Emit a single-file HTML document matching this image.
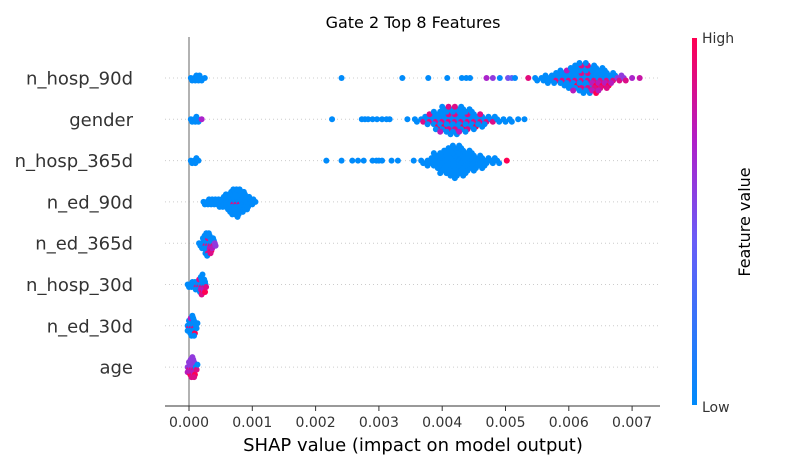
<!DOCTYPE html>
<html><head><meta charset="utf-8"><style>
body{margin:0;background:#fff;}
svg{display:block;font-family:"DejaVu Sans","Liberation Sans",sans-serif;}
</style></head><body>
<svg id="chart" width="800" height="470">
<defs><linearGradient id="cb" x1="0" y1="1" x2="0" y2="0">
<stop offset="0" stop-color="#008bfb"/><stop offset="0.45" stop-color="#6a5cf7"/><stop offset="0.72" stop-color="#b01ec8"/><stop offset="1" stop-color="#ff0052"/></linearGradient></defs>
<text x="413" y="28" text-anchor="middle" font-size="16" fill="#000">Gate 2 Top 8 Features</text>
<g id="grid"></g><g id="ylabels"></g>
<line x1="189" y1="37" x2="189" y2="406" stroke="#999" stroke-width="1.5"/>
<g id="points"></g>
<line x1="165" y1="406" x2="660" y2="406" stroke="#333" stroke-width="1"/>
<g id="xticks"></g>
<text x="413" y="451" text-anchor="middle" font-size="18" fill="#000">SHAP value (impact on model output)</text>
<rect x="692" y="38" width="5" height="367" fill="url(#cb)"/>
<text x="702" y="43" font-size="14" fill="#333">High</text>
<text x="702" y="412" font-size="14" fill="#333">Low</text>
<text transform="translate(750,222) rotate(-90)" text-anchor="middle" font-size="16" fill="#000">Feature value</text>
</svg>
<script>
const features=["n_hosp_90d","gender","n_hosp_365d","n_ed_90d","n_ed_365d","n_hosp_30d","n_ed_30d","age"];
const xTicks=[0,0.001,0.002,0.003,0.004,0.005,0.006,0.007];
const xTickLabels=["0.000","0.001","0.002","0.003","0.004","0.005","0.006","0.007"];
// bin centers in units of 1e-3, counts, and fraction of high-valued (red) points
const hosp90Centers=[0.05,0.1,0.15,0.2,0.25,2.41,3.37,3.78,4.08,4.31,4.38,4.44,4.7,4.8,4.91,5.04,5.1,5.15,5.36,5.5,5.6,5.7,5.8,5.9,6.0,6.1,6.2,6.3,6.4,6.5,6.6,6.7,6.8,6.9,7.0,7.12];
const hosp90Counts=[2,3,3,2,1,1,1,1,1,1,1,1,1,1,1,1,1,1,1,2,3,4,5,7,9,11,13,13,12,10,8,5,3,2,1,1];
const hosp90Red=[0,0,0,0,0,0,0,0,0,0,0,0,0.7,0.6,0,0.5,0.4,0,0.9,0,0,0,0.1,0.15,0.2,0.25,0.3,0.35,0.4,0.45,0.45,0.5,0.6,0.6,0.7,0.8];
const genderCenters=[0.05,0.1,0.15,0.2,2.26,2.73,2.78,2.83,2.9,2.97,3.05,3.12,3.17,3.45,3.6,3.7,3.8,3.9,4.0,4.1,4.2,4.3,4.4,4.5,4.6,4.7,4.8,4.9,5.0,5.1,5.2,5.3];
const genderCounts=[2,3,2,1,1,1,1,1,1,1,1,1,1,1,2,3,5,8,11,12,12,11,10,8,6,4,3,2,2,2,1,1];
const genderRed=[0,0,0,0.7,0,0,0,0,0,0,0,0,0,0,0.2,0.3,0.3,0.3,0.3,0.35,0.35,0.3,0.3,0.3,0.25,0.2,0.2,0.1,0,0,0,0];
const hosp365Centers=[0.05,0.1,0.15,2.17,2.41,2.58,2.67,2.76,2.9,2.96,3.0,3.05,3.2,3.3,3.55,3.7,3.8,3.9,4.0,4.1,4.2,4.3,4.4,4.5,4.6,4.7,4.8,4.9,5.02];
const hosp365Counts=[2,3,1,1,1,1,1,1,1,1,1,1,1,1,1,2,4,7,10,12,14,13,10,8,6,4,3,2,1];
const hosp365Red=[0,0,0,0,0,0,0,0,0,0,0,0,0,0,0,0,0,0,0.02,0,0,0,0,0,0,0,0,0,1];
const ed90Centers=[0.25,0.3,0.35,0.4,0.45,0.5,0.55,0.6,0.65,0.7,0.75,0.8,0.85,0.9,0.95,1.0,1.05];
const ed90Counts=[2,3,3,3,3,4,5,7,9,11,12,11,9,7,5,3,1];
const ed90Red=[0,0,0,0,0,0,0,0,0.05,0.1,0.1,0.1,0.05,0,0,0,0];
const ed365Centers=[0.18,0.22,0.26,0.3,0.34,0.38,0.42];
const ed365Counts=[2,5,9,10,8,5,2];
const ed365Red=[0,0,0.1,0.3,0.45,0.5,0.9];
const hosp30Centers=[0.0,0.04,0.08,0.12,0.16,0.2,0.24,0.27];
const hosp30Counts=[2,3,3,4,6,9,6,2];
const hosp30Red=[0,0,0,0.2,0.4,0.45,0.5,0.3];
const ed30Centers=[0.0,0.04,0.08,0.12];
const ed30Counts=[6,9,8,3];
const ed30Red=[0.1,0.2,0.2,0.1];
const ageCenters=[0.0,0.04,0.08,0.12];
const ageCounts=[6,9,8,3];
const ageRed=[0.6,0.6,0.6,0.5];
const allCenters=[hosp90Centers,genderCenters,hosp365Centers,ed90Centers,ed365Centers,hosp30Centers,ed30Centers,ageCenters];
const allCounts=[hosp90Counts,genderCounts,hosp365Counts,ed90Counts,ed365Counts,hosp30Counts,ed30Counts,ageCounts];
const allRed=[hosp90Red,genderRed,hosp365Red,ed90Red,ed365Red,hosp30Red,ed30Red,ageRed];

const NS="http://www.w3.org/2000/svg";
const x0=189,pxPer=63300;
function xScale(v){return x0+v*pxPer;}
function yScale(i){return 78+i*41.3;}
function mk(t,a){const e=document.createElementNS(NS,t);for(const k in a)e.setAttribute(k,a[k]);return e;}
function col(t){
  const s=[[0,[0,139,251]],[0.45,[106,92,247]],[0.72,[176,30,200]],[1,[255,0,82]]];
  for(let i=0;i<s.length-1;i++){if(t<=s[i+1][0]){const f=(t-s[i][0])/(s[i+1][0]-s[i][0]);const a=s[i][1],b=s[i+1][1];return `rgb(${Math.round(a[0]+(b[0]-a[0])*f)},${Math.round(a[1]+(b[1]-a[1])*f)},${Math.round(a[2]+(b[2]-a[2])*f)})`;}}
  return "rgb(255,0,82)";
}
const grid=document.getElementById('grid'),yl=document.getElementById('ylabels'),pts=document.getElementById('points'),xt=document.getElementById('xticks');
features.forEach((f,i)=>{
  const y=yScale(i);
  const g=mk('line',{x1:165,x2:660,y1:y,y2:y,stroke:'#ccc','stroke-width':1,'stroke-dasharray':'1,3'});
  
  
  grid.appendChild(g);
  const t=mk('text',{x:133,y:y+6.5,'text-anchor':'end','font-size':18,fill:'#333'});
  t.textContent=f;
  
  
  yl.appendChild(t);
  const cs=allCenters[i],cn=allCounts[i],rd=allRed[i];
  const grp=mk('g',{});
  
  
  pts.appendChild(grp);
  cs.forEach((c,b)=>{
    const n=cn[b],nr=Math.round(n*rd[b]);
    const bw=(b>0?Math.min(Math.abs(c-cs[b-1])*1e-3*pxPer,6):4);
    for(let k=0;k<n;k++){
      const side=(k%2?1:-1),lvl=Math.ceil(k/2);
      const dy=n===1?0:side*lvl*2.5;
      const dx=n===1?0:((k%3)-1)*bw/3;
      let cv;
      if(n===1){cv=rd[b];}
      else{
        const isRed=nr>0 && (k%Math.max(1,Math.round(n/nr))===1);
        cv=isRed?(0.75+0.25*((k%3)/2)):rd[b]>0.55?0.6:0;
      }
      const p=mk('circle',{cx:xScale(c*1e-3)+dx,cy:y+dy,r:3,fill:col(cv)});
      
      
      grp.appendChild(p);
    }
  });
});
xTicks.forEach((v,i)=>{
  const x=xScale(v);
  const l=mk('line',{x1:x,x2:x,y1:406,y2:411,stroke:'#333'});
  
  
  xt.appendChild(l);
  const t=mk('text',{x:x,y:427,'text-anchor':'middle','font-size':14,fill:'#333'});
  t.textContent=xTickLabels[i];
  
  
  xt.appendChild(t);
});
</script>
</body></html>
